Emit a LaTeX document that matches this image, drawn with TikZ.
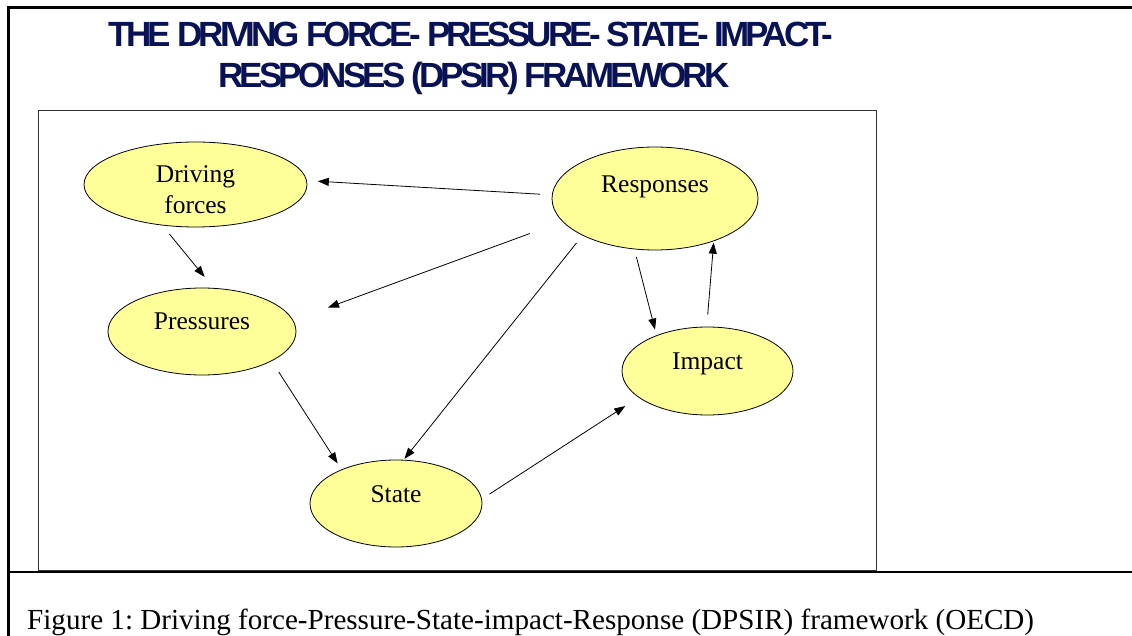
\documentclass[tikz,border=0pt]{standalone}
\usepackage{fontspec}
\setmainfont{Liberation Serif}
\newfontfamily\headfont[LetterSpace=-10.9]{Liberation Sans}
\usepackage{tikz}
\usetikzlibrary{positioning, arrows.meta, shapes}
\definecolor{headblue}{RGB}{8,18,84}
\definecolor{bubbleyellow}{RGB}{255,255,153}
\frenchspacing

\begin{document}
\begin{tikzpicture}[
        x=1pt, y=-1pt,
        bubble/.style={ellipse, draw, fill=bubbleyellow, line width=0.8pt, inner sep=0pt},
        word/.style={font=\fontsize{25.5pt}{31pt}\selectfont, align=center, inner sep=0pt},
        flow/.style={-{Triangle[length=11pt,width=8pt]}, line width=0.8pt},
        heading/.style={font=\headfont\bfseries\fontsize{35pt}{41pt}\selectfont, text=headblue, inner sep=0pt, anchor=base},
    ]
    \useasboundingbox (0,0) rectangle (1132,636);
    % page frame
    \draw[line width=2.5pt] (8.3,636) -- (8.3,7.3) -- (1132,7.3);
    \draw[line width=2pt] (8.3,572.3) -- (1132,572.3);
    % figure box
    \draw[line width=0.8pt, black!80] (38,110) rectangle (876,570);

    \node[heading] (head1) at (471,46.7) {THE DRIVING FORCE- PRESSURE- STATE- IMPACT-};
    \node[heading] (head2) at (474,88) {RESPONSES (DPSIR) FRAMEWORK};

    % the five elements
    \node[bubble, minimum width=223pt, minimum height=85pt,
        label={[word, name=drv-text, yshift=-4.9pt]center:Driving\\forces}] (drv) at (195.5,184.5) {};
    \node[bubble, minimum width=188pt, minimum height=87pt,
        label={[word, name=prs-text, yshift=9.9pt]center:Pressures}] (prs) at (202,331.5) {};
    \node[bubble, minimum width=172pt, minimum height=87pt,
        label={[word, name=sta-text, yshift=9.4pt]center:State}] (sta) at (396,503.5) {};
    \node[bubble, minimum width=171pt, minimum height=88pt,
        label={[word, name=imp-text, yshift=7.4pt]center:Impact}] (imp) at (707.5,371) {};
    \node[bubble, minimum width=206pt, minimum height=103pt,
        label={[word, name=rsp-text, yshift=11.9pt]center:Responses}] (rsp) at (655,198.5) {};

    % links
    \draw[flow, shorten <=12pt, shorten >=10.9pt] (rsp.178.5) -- (drv.2.2);
    \draw[flow, shorten <=34.7pt, shorten >=37pt] (rsp.194.6) -- (prs.7.6);
    \draw[flow, shorten <=9.6pt, shorten >=1.2pt] (rsp.207) -- (sta.80);
    \draw[flow, shorten <=11pt, shorten >=14.3pt] (drv.231.7) -- (prs.75.9);
    \draw[flow, shorten <=13pt, shorten >=7.2pt] (prs.-23.2) -- (sta.148.8);
    \draw[flow, shorten <=9pt, shorten >=15.8pt] (sta.3.8) -- (imp.201.2);
    \draw[flow, shorten <=7.9pt, shorten >=5.9pt] (rsp.248.6) -- (imp.145.4);
    \draw[flow, shorten <=12pt, shorten >=1.5pt] (imp.91.5) -- (rsp.-36.4);

    \node[anchor=base west, font=\fontsize{29.1pt}{34pt}\selectfont, inner sep=0pt] (caption) at (27,629)
        {Figure 1: Driving force-Pressure-State-impact-Response (DPSIR) framework (OECD)};
\end{tikzpicture}
\end{document}
